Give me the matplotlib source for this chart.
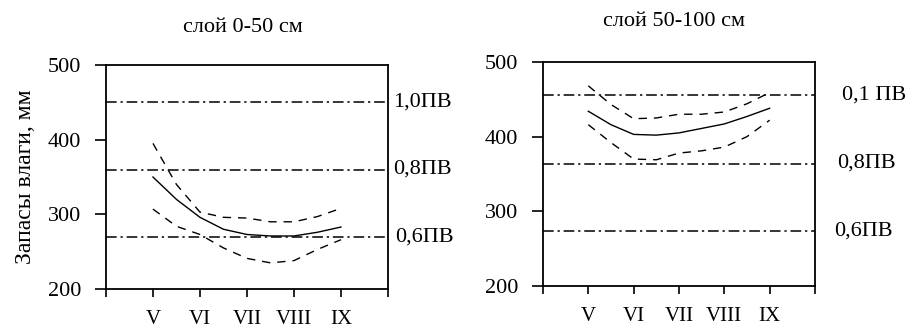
import matplotlib.pyplot as plt

# month positions on x axis (0..6, labels at 1..5)
months = ['V', 'VI', 'VII', 'VIII', 'IX']
month_pos = [1, 2, 3, 4, 5]
xs = [1, 1.5, 2, 2.5, 3, 3.5, 4, 4.5, 5]

# layer 0-50 cm
mean_top = [350, 320, 296, 280, 273, 271, 271, 276, 283]
upper_top = [395, 340, 303, 296, 295, 290, 290, 297, 308]
lower_top = [307, 284, 273, 255, 241, 235, 238, 253, 266]
levels_top = [450, 360, 270]
level_labels_top = ['1,0ПВ', '0,8ПВ', '0,6ПВ']

# layer 50-100 cm
mean_bot = [434, 416, 403, 402, 405, 411, 417, 427, 438]
upper_bot = [468, 443, 424, 425, 430, 430, 433, 444, 459]
lower_bot = [416, 392, 370, 369, 378, 381, 386, 400, 422]
levels_bot = [456, 364, 274]
level_labels_bot = ['0,1 ПВ', '0,8ПВ', '0,6ПВ']

plt.rcParams['font.family'] = ['Liberation Serif', 'DejaVu Serif']
fsz = 16

fig = plt.figure(figsize=(9.15, 3.29), dpi=100, facecolor='w')


def panel(rect, title, mean, upper, lower, levels, labels, lab_x, title_y):
    ax = fig.add_axes(rect)
    ax.plot(xs, mean, color='k', lw=1.0)
    ax.plot(xs, upper, color='k', lw=1.0, dashes=(6, 5))
    ax.plot(xs, lower, color='k', lw=1.0, dashes=(6, 5))
    for lv, lb, lx in zip(levels, labels, lab_x):
        ax.axhline(lv, color='k', lw=1.1, dashes=(7, 2.5, 1.5, 2.5))
        ax.text(lx, lv, lb, transform=ax.get_yaxis_transform(),
                ha='left', va='center', fontsize=fsz)
    ax.set_xlim(0, 6)
    ax.set_ylim(200, 500)
    ax.set_xticks(range(7))
    ax.set_xticklabels([''] + months + [''])
    ax.set_yticks([200, 300, 400, 500])
    ax.tick_params(axis='x', direction='out', length=6, width=1.2, pad=9, labelsize=fsz - 1)
    ax.tick_params(axis='y', direction='out', length=8, width=1.2, pad=10, labelsize=fsz)
    for s in ax.spines.values():
        s.set_linewidth(1.3)
    fig.text(rect[0] + rect[2] / 2 - 0.005, title_y, title, ha='center',
             va='center', fontsize=fsz)
    return ax


ax1 = panel([0.1158, 0.1216, 0.3082, 0.6808], 'слой 0-50 см',
            mean_top, upper_top, lower_top, levels_top, level_labels_top,
            [1.018, 1.018, 1.025], 0.915)
ax1.set_ylabel('Запасы влаги, мм', fontsize=fsz + 1, labelpad=8)

ax2 = panel([0.5934, 0.1307, 0.2973, 0.6810], 'слой 50-100 см',
            mean_bot, upper_bot, lower_bot, levels_bot, level_labels_bot,
            [1.10, 1.08, 1.07], 0.935)

plt.savefig('out.png', dpi=100, facecolor='w')
